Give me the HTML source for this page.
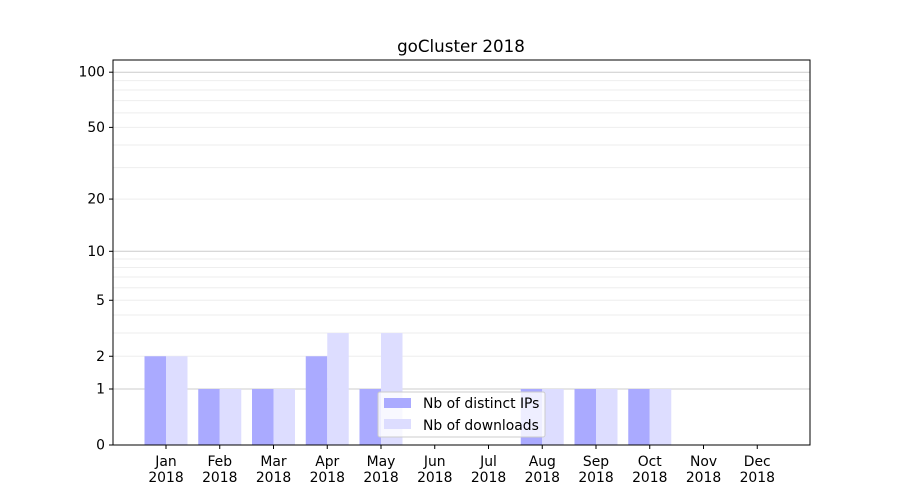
<!DOCTYPE html>
<html><head><meta charset="utf-8"><style>
body{margin:0;background:#fff}
svg{display:block;font-family:"DejaVu Sans","Liberation Sans",sans-serif}
</style></head><body>
<svg id="chart" width="900" height="500">
<text x="461" y="52" text-anchor="middle" font-size="16.7">goCluster 2018</text>
<g id="grid"></g><g id="bars"></g><g id="axes"></g>
<g>
<rect x="378" y="392" width="167" height="45" fill="#fff" fill-opacity="0.8" stroke="#ccc" rx="2"/>
<rect x="384" y="398" width="27" height="10" fill="#aaaaff"/>
<text x="423" y="408" font-size="13.9">Nb of distinct IPs</text>
<rect x="384" y="419" width="27" height="10" fill="#ddddff"/>
<text x="423" y="430" font-size="13.9">Nb of downloads</text>
</g>
</svg>
<script>
const months=["Jan","Feb","Mar","Apr","May","Jun","Jul","Aug","Sep","Oct","Nov","Dec"];
const ips=[2,1,1,2,1,0,0,1,1,1,0,0];
const downloads=[2,1,1,3,3,0,0,1,1,1,0,0];
const yTicks=[0,1,2,5,10,20,50,100];
const NS="http://www.w3.org/2000/svg";
const L=113,R=810,T=60,B=445;
function y(v){return B-186*Math.log10(1+v);}
function x(i){return 166+i*53.75;}
function mk(tag,attrs,parent){const e=document.createElementNS(NS,tag);for(const k in attrs)e.setAttribute(k,attrs[k]);parent.appendChild(e);return e;}
const grid=document.getElementById('grid'),bars=document.getElementById('bars'),axes=document.getElementById('axes');
const minors=[];for(let d=1;d<=100;d*=10)for(let m=1;m<10;m++){const v=d*m;if(y(v)>T)minors.push(v);}
minors.forEach(v=>{const major=[1,10,100].includes(v);
const g=mk('line',{x1:L,x2:R,y1:y(v),y2:y(v),stroke:major?'#cccccc':'#eeeeee','stroke-width':1},grid);

});
const bw=21.5;
months.forEach((m,i)=>{
if(ips[i]>0){const r=mk('rect',{x:x(i)-bw,y:y(ips[i]),width:bw,height:B-y(ips[i]),fill:'#aaaaff'},bars);

}
if(downloads[i]>0){const r=mk('rect',{x:x(i),y:y(downloads[i]),width:bw,height:B-y(downloads[i]),fill:'#ddddff'},bars);

}
mk('line',{x1:x(i),x2:x(i),y1:B,y2:B+4,stroke:'#000'},axes);
const t=mk('text',{x:x(i),y:466,'text-anchor':'middle','font-size':13.9},axes);


t.innerHTML='<tspan x="'+x(i)+'">'+m+'</tspan><tspan x="'+x(i)+'" dy="16">2018</tspan>';
});
yTicks.forEach(v=>{mk('line',{x1:L-4,x2:L,y1:y(v),y2:y(v),stroke:'#000'},axes);
const t=mk('text',{x:L-8,y:y(v)+4.5,'text-anchor':'end','font-size':13.9},axes);


t.textContent=v;});
const f=mk('rect',{x:L,y:T,width:R-L,height:B-T,fill:'none',stroke:'#000','stroke-width':1},axes);


</script>
</body></html>
